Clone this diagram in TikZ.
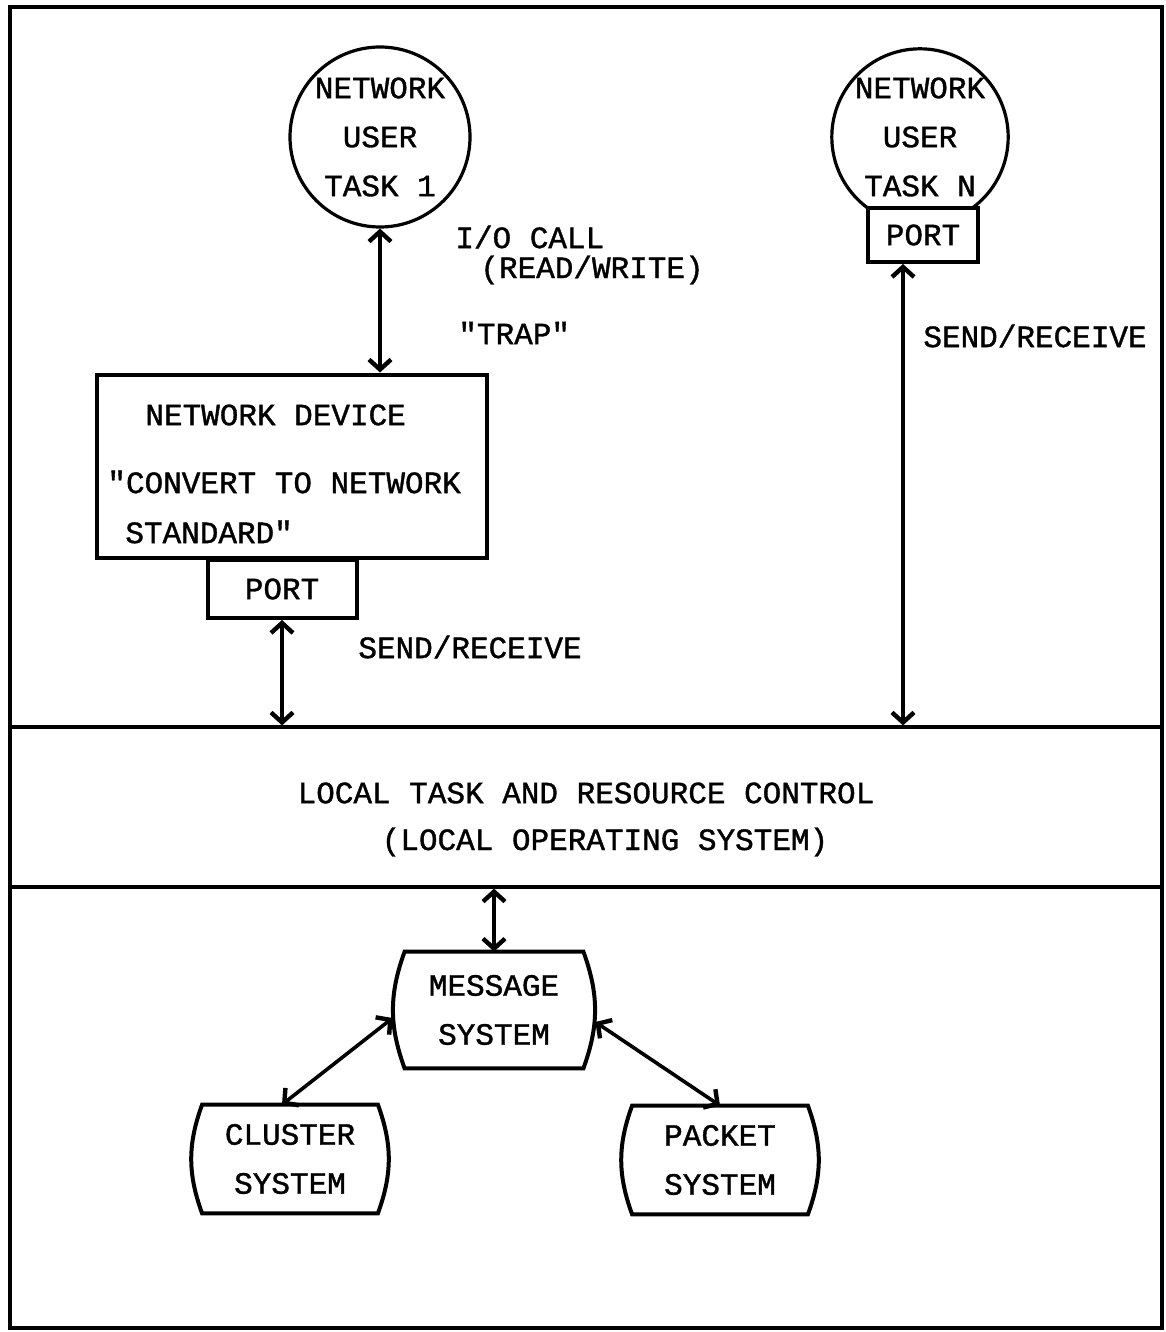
\documentclass[tikz,border=0pt]{standalone}
\usepackage{fontspec}
\setmainfont{Liberation Mono}[FakeBold=1.2]
\usetikzlibrary{arrows.meta,positioning}
\tikzset{
  lbl/.style={font=\fontsize{15.5}{24.5}\selectfont, inner sep=0pt},
  box/.style={draw, line width=2pt, fill=white, inner sep=0pt},
  task/.style={circle, draw, line width=1.6pt, inner sep=0pt, align=center, lbl},
  drum/.style={lbl, align=center, minimum width=87.5pt, minimum height=54pt},
  link/.style={{Straight Barb[length=5pt,width=11pt,line width=2.2pt]}-{Straight Barb[length=5pt,width=11pt,line width=2.2pt]}, line width=1.8pt}
}
\newcommand{\barrel}[1]{\draw[line width=2pt] (#1.north west) -- (#1.north east) to[bend left=20] (#1.south east) -- (#1.south west) to[bend left=20] cycle;}

\begin{document}
\begin{tikzpicture}[x=0.5pt,y=-0.5pt]
  \useasboundingbox (0,0) rectangle (1166,1332);
  \draw[line width=2.2pt] (10,7) rectangle (1162,1328);
  % local operating system band
  \node[draw, line width=1.6pt, minimum width=576pt, minimum height=80pt] (ltrc) at (586,807) {};
  \node[lbl] (ltrca) at (586,793) {LOCAL TASK AND RESOURCE CONTROL};
  \node[lbl] (ltrcb) at (605,842) {(LOCAL OPERATING SYSTEM)};
  % user tasks
  \node[task, minimum size=90pt] (task1) at (380,137) {NETWORK\\USER\\TASK 1};
  \node[task, minimum size=88pt] (taskn) at (920,137) {NETWORK\\USER\\TASK N};
  \node[box, lbl, minimum width=55pt, minimum height=27pt] (portn) at (923,235) {PORT};
  % network device
  \node[box, minimum width=195pt, minimum height=91.5pt] (dev) at (292,466) {};
  \node[lbl, anchor=west] (deva) at (145,415) {NETWORK DEVICE};
  \node[lbl, anchor=west] (devb) at (107,482) {\textquotedbl CONVERT TO NETWORK};
  \node[lbl, anchor=west] (devc) at (125,532) {STANDARD\textquotedbl};
  \node[box, lbl, minimum width=74.5pt, minimum height=29pt] (port1) at (282,589) {PORT};
  % labels
  \node[lbl, anchor=west] (io) at (455,237) {I/O CALL};
  \node[lbl, anchor=west] (rw) at (480,270) {(READ/WRITE)};
  \node[lbl, anchor=west] (trap) at (458,333) {\textquotedbl TRAP\textquotedbl};
  \node[lbl, anchor=west] (sr1) at (358,647) {SEND/RECEIVE};
  \node[lbl, anchor=west] (srn) at (923,336) {SEND/RECEIVE};
  % message systems
  \node[drum, minimum width=89pt, minimum height=58pt] (msg) at (494,1010) {MESSAGE\\SYSTEM};
  \node[drum] (clus) at (290,1159) {CLUSTER\\SYSTEM};
  \node[drum] (pack) at (720,1160) {PACKET\\SYSTEM};
  \barrel{msg} \barrel{clus} \barrel{pack}
  % connectors
  \draw[link] (task1.south) -- (task1.south |- dev.north);
  \draw[link] (port1.south) -- (port1.south |- ltrc.north);
  \draw[link] ([xshift=-10pt]portn.south) -- ([xshift=-10pt]portn.south |- ltrc.north);
  \draw[link] (ltrc.south -| msg.north) -- (msg.north);
  \draw[link] ([xshift=-6pt,yshift=-4pt]msg.west) -- ([xshift=-4pt]clus.north);
  \draw[link] ([xshift=6pt,yshift=-6pt]msg.east) -- (pack.north);
\end{tikzpicture}
\end{document}
